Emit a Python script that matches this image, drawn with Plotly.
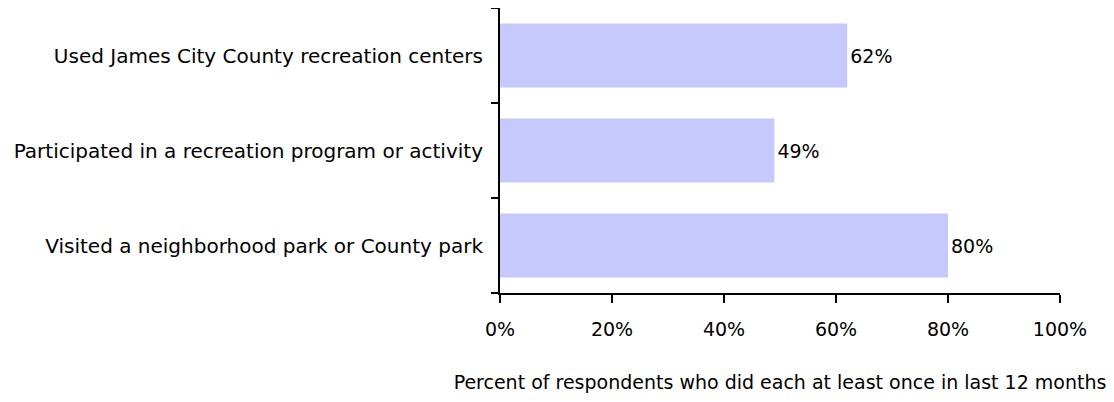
import plotly.graph_objects as go

categories = [
    "Visited a neighborhood park or County park",
    "Participated in a recreation program or activity",
    "Used James City County recreation centers",
]
values = [80, 49, 62]
value_labels = ["80%", "49%", "62%"]
x_ticks = [0, 20, 40, 60, 80, 100]
x_tick_labels = ["0%", "20%", "40%", "60%", "80%", "100%"]
x_title = "Percent of respondents who did each at least once in last 12 months"

FONT = "'DejaVu Sans', sans-serif"
FS = 19

fig = go.Figure(
    go.Bar(
        y=categories,
        x=values,
        orientation="h",
        marker=dict(color="#C6C9FC", line=dict(width=0)),
        width=0.675,
        text=value_labels,
        textposition="outside",
        textfont=dict(family=FONT, size=FS, color="#000"),
        cliponaxis=False,
    )
)

fig.update_layout(
    width=1114,
    height=402,
    margin=dict(l=492, r=62, t=0, b=117, autoexpand=False),
    paper_bgcolor="white",
    plot_bgcolor="white",
    showlegend=False,
    font=dict(family=FONT, size=FS, color="#000"),
    xaxis=dict(
        range=[0, 100],
        tickvals=x_ticks,
        ticktext=x_tick_labels,
        showgrid=False,
        zeroline=False,
        showline=True,
        linecolor="#000",
        linewidth=2,
        ticks="outside",
        ticklen=8,
        tickwidth=2,
        tickcolor="#000",
        tickfont=dict(family=FONT, size=FS),
        ticklabelstandoff=10,
        automargin=False,
        title=dict(text=x_title, font=dict(family=FONT, size=FS), standoff=37),
    ),
    yaxis=dict(
        categoryorder="array",
        categoryarray=categories,
        showgrid=False,
        zeroline=False,
        showline=True,
        linecolor="#000",
        linewidth=2,
        ticks="outside",
        tickson="boundaries",
        ticklen=7,
        tickwidth=2,
        tickcolor="#000",
        tickfont=dict(family=FONT, size=20),
        ticklabelstandoff=11,
        automargin=False,
    ),
    bargap=0.325,
)

fig.write_html("out.html")
